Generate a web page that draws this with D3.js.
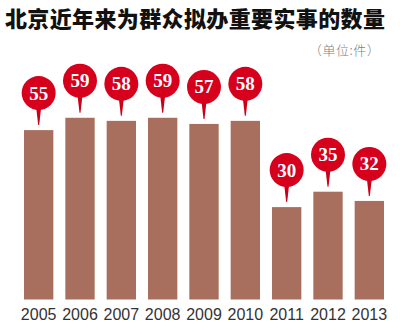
<!DOCTYPE html>
<html><head><meta charset="utf-8">
<script src="https://cdn.jsdelivr.net/npm/d3@7"></script>
<style>body{margin:0;background:#fff}svg{display:block}</style>
</head><body>
<script>
const title = "北京近年来为群众拟办重要实事的数量";
const unitLabel = "（单位:件）";
const years = ["2005","2006","2007","2008","2009","2010","2011","2012","2013"];
const counts = [55,59,58,59,57,58,30,35,32];

const W = 400, H = 323;
const svg = d3.select("body").append("svg").attr("width", W).attr("height", H);
svg.append("rect").attr("width", W).attr("height", H).attr("fill", "#fff");

const x = d3.scaleBand().domain(years).range([18, 390]).paddingInner(0.29).paddingOuter(0.145);
const y = d3.scaleLinear().domain([0, 60]).range([299.5, 114.7]);

svg.append("text").attr("x", 5).attr("y", 27)
  .attr("font-family", "Noto Sans CJK SC").attr("font-weight", 900)
  .attr("font-size", 22).attr("fill", "#111").attr("textLength", 380)
  .text(title);

svg.append("text").attr("x", 309).attr("y", 55)
  .attr("font-family", "Noto Sans CJK SC").attr("font-weight", 300)
  .attr("font-size", 13).attr("letter-spacing", 0.5).attr("fill", "#808080")
  .text(unitLabel);

const data = years.map((yr, i) => ({yr, v: counts[i]}));

svg.selectAll("rect.bar").data(data).enter().append("rect")
  .attr("class", "bar")
  .attr("x", d => x(d.yr)).attr("width", x.bandwidth())
  .attr("y", d => y(d.v)).attr("height", d => y(0) - y(d.v))
  .attr("fill", "#a96f5e");

const pins = svg.selectAll("g.pin").data(data).enter().append("g")
  .attr("class", "pin")
  .attr("transform", d => `translate(${x(d.yr) + x.bandwidth()/2},${y(d.v) - 37})`);
pins.append("path").attr("d", "M-3,10 L3,10 L0.5,32 L-0.5,32 Z").attr("fill", "#c8001a");
pins.append("circle").attr("r", 17).attr("fill", "#d6001c");
pins.append("text").attr("text-anchor", "middle").attr("y", 6.5)
  .attr("font-family", "Liberation Serif").attr("font-weight", "bold")
  .attr("font-size", 19).attr("fill", "#fff")
  .text(d => d.v);

const xAxis = svg.append("g").attr("transform", `translate(0,${y(0)})`)
  .call(d3.axisBottom(x).tickSize(0).tickPadding(0));
xAxis.select(".domain").remove();
xAxis.selectAll("text").attr("dy", 0).attr("y", 20.5)
  .attr("font-family", "Liberation Sans").attr("font-size", 16).attr("fill", "#333");
</script>
</body></html>
